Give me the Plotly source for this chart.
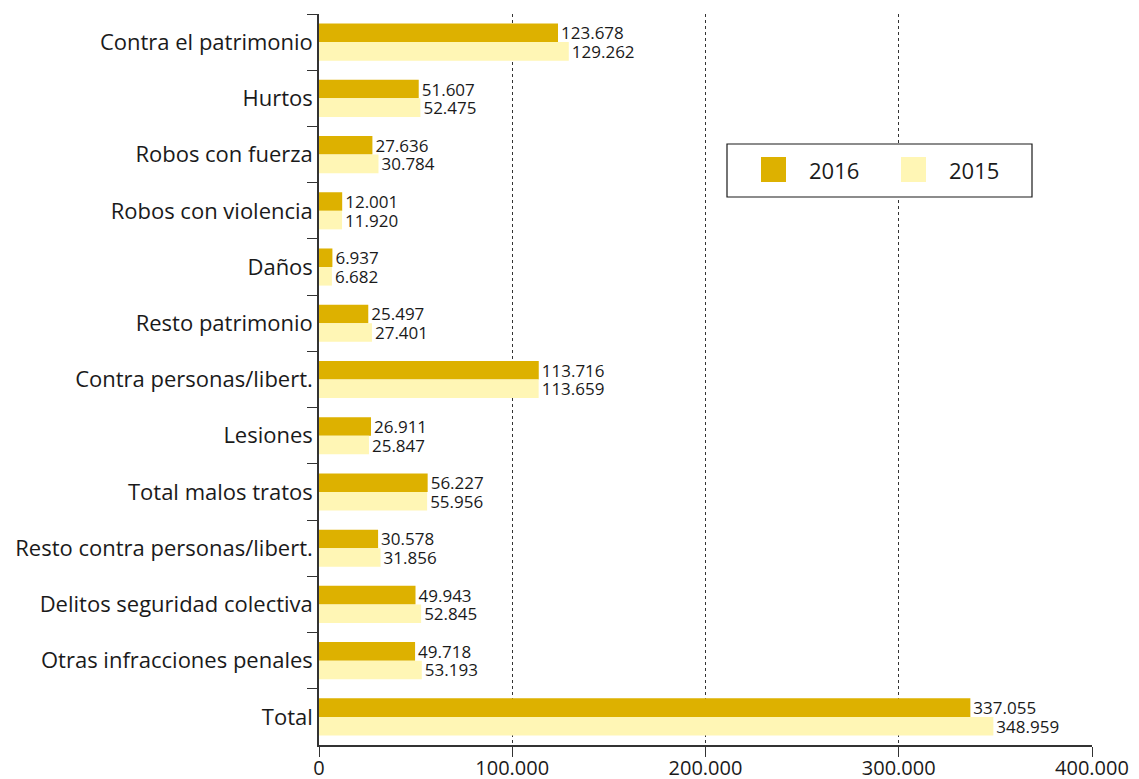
import plotly.graph_objects as go

categories = [
    "Contra el patrimonio", "Hurtos", "Robos con fuerza", "Robos con violencia",
    "Daños", "Resto patrimonio", "Contra personas/libert.", "Lesiones",
    "Total malos tratos", "Resto contra personas/libert.",
    "Delitos seguridad colectiva", "Otras infracciones penales", "Total",
]
values_2016 = [123678, 51607, 27636, 12001, 6937, 25497, 113716, 26911,
               56227, 30578, 49943, 49718, 337055]
values_2015 = [129262, 52475, 30784, 11920, 6682, 27401, 113659, 25847,
               55956, 31856, 52845, 53193, 348959]
x_ticks = [0, 100000, 200000, 300000, 400000]
series_names = ["2016", "2015"]
series_colors = ["#DDB100", "#FFF6B5"]


def fmt(v):
    return f"{v:,}".replace(",", ".")


FONT = "Open Sans"
TXT = "#1a1a1a"

# page offset of the plotly div (body margin) is 8px
W, H = 1131, 771
L, T, R, B = 311, 6, 47, 34
PX0, PX1 = 319, 1092   # plot area in screenshot pixels
PY0, PY1 = 14, 745


def px(x):
    return (x - PX0) / (PX1 - PX0)


def py(y):
    return (PY1 - y) / (PY1 - PY0)


fig = go.Figure()
for name, vals, col in zip(series_names, [values_2016, values_2015], series_colors):
    fig.add_trace(go.Bar(
        y=categories, x=vals, orientation="h", name=name,
        marker=dict(color=col, line=dict(width=0)),
        text=[fmt(v) for v in vals], textposition="outside",
        constraintext="none",
        textfont=dict(size=17, color=TXT, family=FONT), cliponaxis=False,
        showlegend=False,
    ))

# legend drawn by hand to match the large swatches
shapes = [dict(type="rect", xref="paper", yref="paper",
               x0=px(727), x1=px(1032), y0=py(197), y1=py(144),
               line=dict(color=TXT, width=1.2), fillcolor="white", layer="above")]
annotations = []
for i, (name, col) in enumerate(zip(series_names, series_colors)):
    sx = 761 + i * 140
    shapes.append(dict(type="rect", xref="paper", yref="paper",
                       x0=px(sx), x1=px(sx + 25), y0=py(182), y1=py(157),
                       line=dict(width=0), fillcolor=col, layer="above"))
    annotations.append(dict(xref="paper", yref="paper", x=px(sx + 46), y=py(170),
                            xanchor="left", yanchor="middle", text=name,
                            showarrow=False, font=dict(size=22, color=TXT, family=FONT)))

fig.update_layout(
    width=W, height=H,
    margin=dict(l=L, r=R, t=T, b=B),
    barmode="group", bargap=0.34, bargroupgap=0,
    plot_bgcolor="white", paper_bgcolor="white",
    font=dict(family=FONT, size=20, color=TXT),
    separators=",.",
    showlegend=False,
    shapes=shapes, annotations=annotations,
    xaxis=dict(
        range=[0, 400000], tickvals=x_ticks, ticktext=[fmt(v) for v in x_ticks],
        showgrid=True, gridcolor="#333333", griddash="dot", gridwidth=1,
        showline=True, linecolor="#333333", linewidth=1.5,
        ticks="outside", ticklen=10, tickcolor="#333333",
        zeroline=False, tickfont=dict(size=20), automargin=False,
        ticklabelstandoff=-6,
    ),
    yaxis=dict(
        autorange="reversed", showline=True, linecolor="#333333", linewidth=1.5,
        ticks="outside", ticklen=10, tickcolor="#333333", tickson="boundaries",
        showgrid=False, tickfont=dict(size=22), automargin=False,
    ),
)

fig.write_html("out.html")
